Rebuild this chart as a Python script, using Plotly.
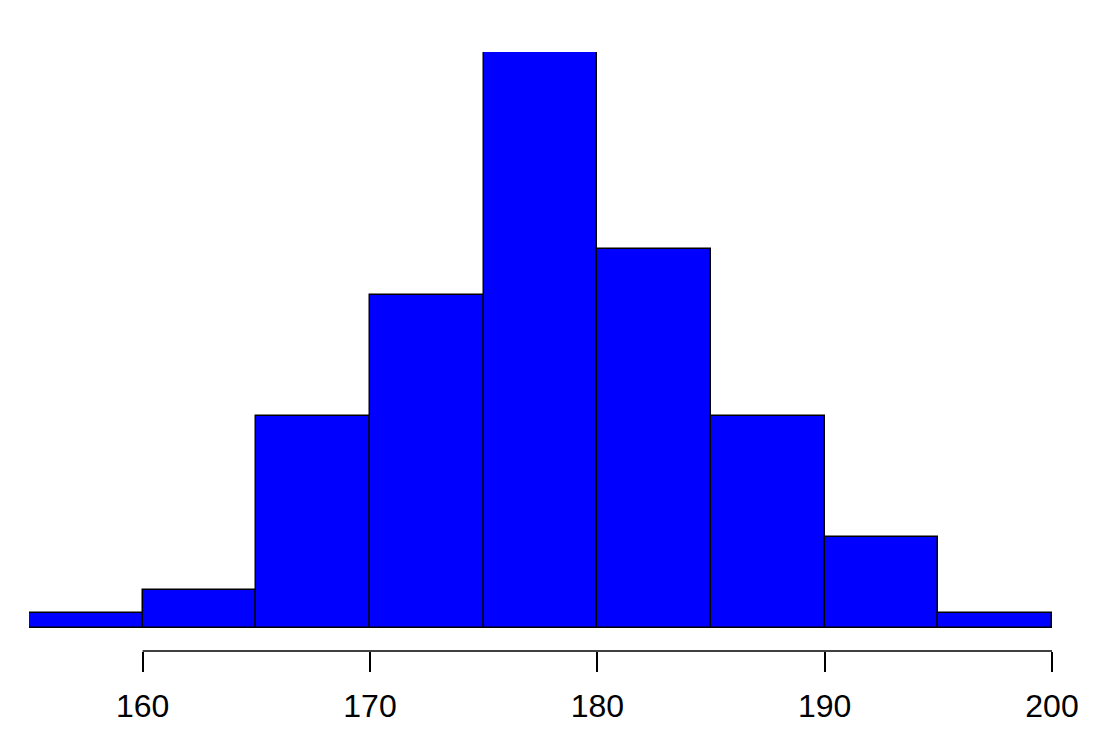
import plotly.graph_objects as go

# histogram bins (left edges, width 5) and counts
bin_edges = [155, 160, 165, 170, 175, 180, 185, 190, 195, 200]
counts = [2, 5, 28, 44, 76, 50, 28, 12, 2]
tick_vals = [160, 170, 180, 190, 200]
tick_text = ["160", "170", "180", "190", "200"]

mids = [(a + b) / 2 for a, b in zip(bin_edges[:-1], bin_edges[1:])]
widths = [b - a for a, b in zip(bin_edges[:-1], bin_edges[1:])]

fig = go.Figure()
fig.add_trace(go.Bar(x=mids, y=counts, width=widths,
                     marker=dict(color="#0000ff", line=dict(color="black", width=1.5)),
                     hoverinfo="x+y"))

# R-style axis: line only between the first and last tick
fig.add_shape(type="line", xref="x", yref="paper",
              x0=tick_vals[0], x1=tick_vals[-1], y0=0, y1=0,
              line=dict(color="black", width=1.5))

ymax = max(counts)
fig.update_layout(
    width=1102, height=745,
    margin=dict(l=21, r=58, t=44, b=102),
    plot_bgcolor="white", paper_bgcolor="white",
    showlegend=False, bargap=0,
    font=dict(family="Liberation Sans, Arial, sans-serif", size=32, color="black"),
    xaxis=dict(range=[bin_edges[0], bin_edges[-1]], tickvals=tick_vals, ticktext=tick_text,
               ticks="outside", ticklen=20, tickwidth=1.5, tickcolor="black",
               showgrid=False, zeroline=False, showline=False, ticklabelstandoff=7),
    yaxis=dict(range=[-ymax * 0.0399, ymax], visible=False),
)

fig.write_html("out.html")
